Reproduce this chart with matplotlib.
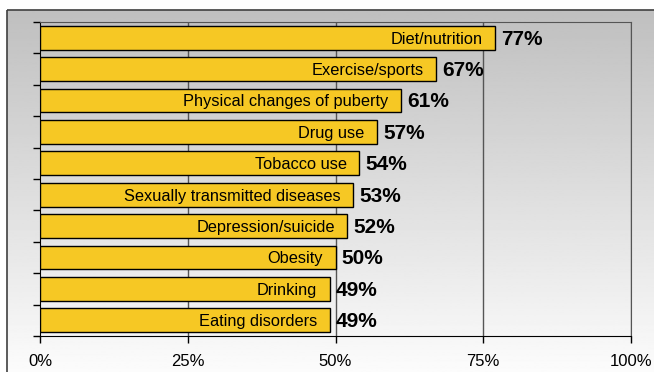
import numpy as np
import matplotlib.pyplot as plt
from matplotlib.patches import Rectangle

# Topics and share of respondents (%)
topics = ['Diet/nutrition', 'Exercise/sports', 'Physical changes of puberty',
          'Drug use', 'Tobacco use', 'Sexually transmitted diseases',
          'Depression/suicide', 'Obesity', 'Drinking', 'Eating disorders']
values = [77, 67, 61, 57, 54, 53, 52, 50, 49, 49]
xticks = [0, 25, 50, 75, 100]

W, H = 654, 372
fig = plt.figure(figsize=(W / 100, H / 100), dpi=100)

# background panel with grey-to-white gradient
bg = fig.add_axes([0, 0, 1, 1])
bg.set_xlim(0, W)
bg.set_ylim(H, 0)
bg.axis('off')
grad = np.linspace(0.75, 0.99, 256).reshape(-1, 1)
bg.imshow(grad, cmap='gray', vmin=0, vmax=1, aspect='auto',
          extent=(7, W + 5, H + 5, 10), zorder=0)
bg.add_patch(Rectangle((7, 10), W, H, fill=False, edgecolor='#404040', lw=1.2, zorder=1))

left, right, top, bottom = 40, 631, 22, 336
ax = fig.add_axes([left / W, (H - bottom) / H, (right - left) / W, (bottom - top) / H])
ax.patch.set_alpha(0)

y = np.arange(len(topics))
ax.barh(y, values, height=0.76, color='#F6C824', edgecolor='black', linewidth=1, zorder=3)
ax.set_xlim(0, 100)
ax.set_ylim(len(topics) - 0.5, -0.5)

for yi, v, t in zip(y, values, topics):
    ax.annotate(t, (v, yi), xytext=(-9, -1), textcoords='offset points',
                ha='right', va='center', fontsize=11.8, family='Liberation Sans', zorder=4)
    ax.annotate(f'{v}%', (v, yi), xytext=(4.5, -1), textcoords='offset points',
                ha='left', va='center', fontsize=15, fontweight='bold',
                family='Liberation Sans', zorder=4)

ax.set_xticks(xticks)
ax.set_xticklabels([f'{x}%' for x in xticks], fontsize=12, family='Liberation Sans')
ax.tick_params(axis='x', length=5, pad=8, width=1)
ax.set_yticks(np.arange(len(topics) + 1) - 0.5)
ax.set_yticklabels([])
ax.tick_params(axis='y', length=5, width=1)
for x in xticks[1:]:
    ax.axvline(x, color='#555555', lw=1, zorder=1)
for s in ['left', 'bottom']:
    ax.spines[s].set_color('black')
for s in ['top', 'right']:
    ax.spines[s].set_color('#555555')

fig.savefig('out.png', dpi=100)
